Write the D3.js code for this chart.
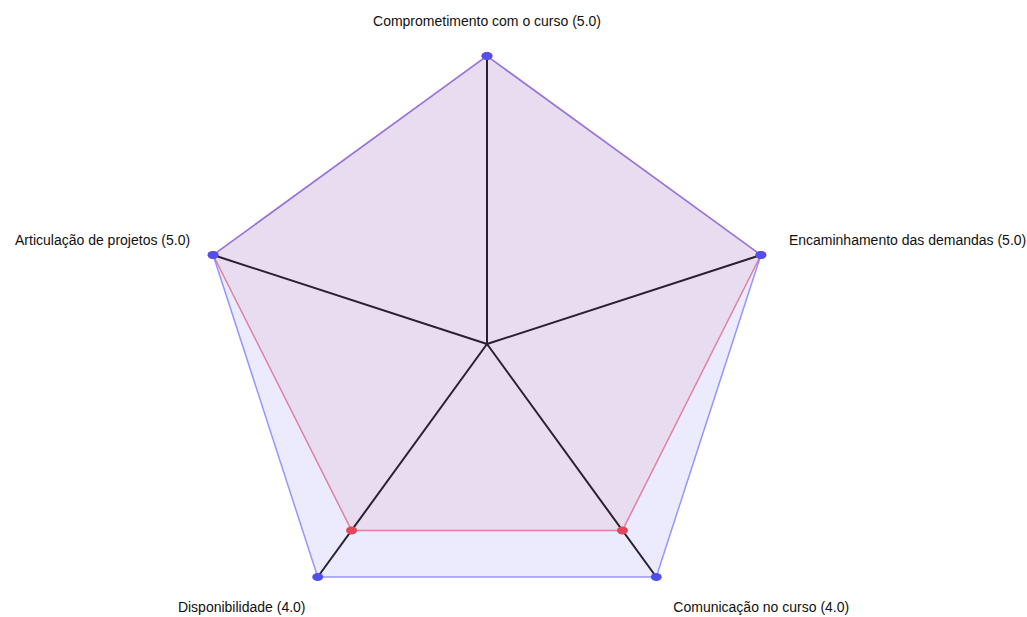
<!DOCTYPE html>
<meta charset="utf-8">
<style>
body { margin: 0; background: #fff; }
.label { font-family: "Liberation Sans", Arial, sans-serif; font-size: 14px; fill: #111; }
.spoke { stroke: #2a2030; stroke-width: 2px; }
</style>
<body>
<script src="https://d3js.org/d3.v7.min.js"></script>
<script>

// axes and values
var axes = ["Comprometimento com o curso", "Encaminhamento das demandas", "Comunicação no curso", "Disponibilidade", "Articulação de projetos"];
var maxValues = [5, 5, 5, 5, 5];
var scores = [5, 5, 4, 4, 5];
var labelValues = ["5.0", "5.0", "4.0", "4.0", "5.0"];

var width = 1027, height = 617,
    cx = 487, cy = 344, radius = 288;

var svg = d3.select("body").append("svg")
    .attr("width", width)
    .attr("height", height);

var r = d3.scaleLinear().domain([0, 5]).range([0, radius]);
var angle = d3.scaleLinear().domain([0, axes.length]).range([0, 2 * Math.PI]);

function pt(v, i) {
  var a = angle(i);
  return [cx + r(v) * Math.sin(a), cy - r(v) * Math.cos(a)];
}

var line = d3.line().curve(d3.curveLinearClosed);

// red series (scores)
svg.append("path")
    .attr("d", line(scores.map(pt)))
    .style("fill", "rgba(230,90,120,0.1)")
    .style("stroke", "rgba(235,90,110,0.7)")
    .style("stroke-width", 1.5);

// blue series (max), drawn on top
svg.append("path")
    .attr("d", line(maxValues.map(pt)))
    .style("fill", "rgba(90,90,240,0.12)")
    .style("stroke", "rgba(110,110,255,0.7)")
    .style("stroke-width", 1.5);

// spokes
svg.selectAll(".spoke")
    .data(maxValues)
  .enter().append("line")
    .attr("class", "spoke")
    .attr("x1", cx).attr("y1", cy)
    .attr("x2", function(d, i) { return pt(d, i)[0]; })
    .attr("y2", function(d, i) { return pt(d, i)[1]; });

// points
svg.selectAll(".redpt")
    .data(scores)
  .enter().append("ellipse")
    .attr("cx", function(d, i) { return pt(d, i)[0]; })
    .attr("cy", function(d, i) { return pt(d, i)[1]; })
    .attr("rx", 5.5).attr("ry", 4)
    .style("fill", "#e0485a");

svg.selectAll(".bluept")
    .data(maxValues)
  .enter().append("ellipse")
    .attr("cx", function(d, i) { return pt(d, i)[0]; })
    .attr("cy", function(d, i) { return pt(d, i)[1]; })
    .attr("rx", 5.5).attr("ry", 4)
    .style("fill", "#5050ee");

// labels: offsets from outer vertex
var offs = [[0, -30, "middle"], [28, -10, "start"], [105, 35, "middle"], [-76, 35, "middle"], [-23, -10, "end"]];
svg.selectAll(".label")
    .data(axes)
  .enter().append("text")
    .attr("class", "label")
    .attr("x", function(d, i) { return pt(maxValues[i], i)[0] + offs[i][0]; })
    .attr("y", function(d, i) { return pt(maxValues[i], i)[1] + offs[i][1]; })
    .attr("text-anchor", function(d, i) { return offs[i][2]; })
    .text(function(d, i) { return d + " (" + labelValues[i] + ")"; });

</script>
</body>
